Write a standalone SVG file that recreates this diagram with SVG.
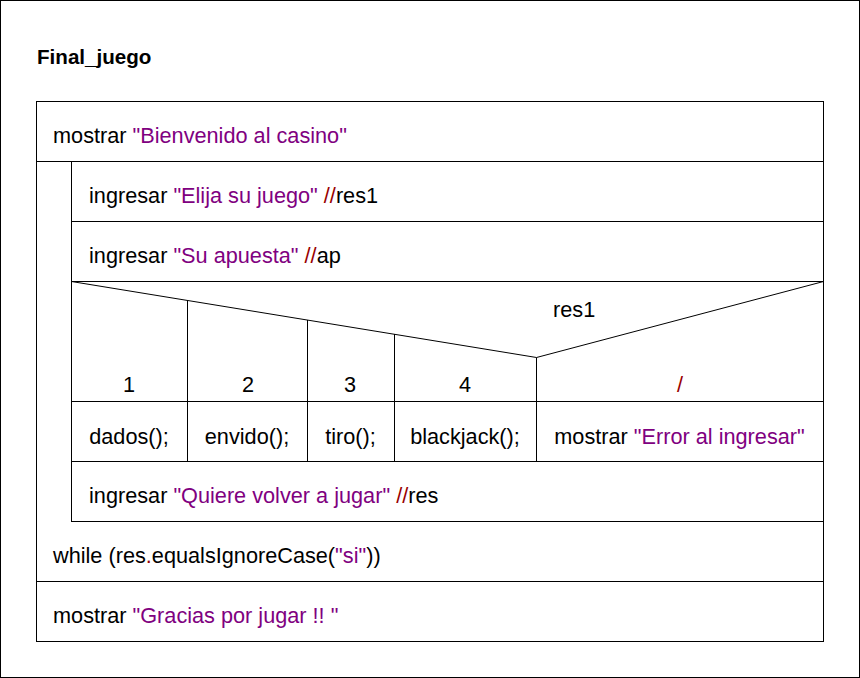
<svg xmlns="http://www.w3.org/2000/svg" width="860" height="678" viewBox="0 0 860 678">
<style>
.b{fill:#fff;stroke:#000;stroke-width:1}
.l{stroke:#000;stroke-width:1;fill:none}
text{font-family:"Liberation Sans",Arial,sans-serif;font-size:21.7px;fill:#000}
.t{font-weight:bold;font-size:20.6px}
.s{fill:#800080}
.r{fill:#990000}
.m{text-anchor:middle}
</style>
<rect x="0.5" y="0.5" width="859" height="677" fill="#fff" stroke="#000"/>
<text class="t" x="37" y="64">Final_juego</text>
<g id="main">
<rect class="b" x="36.5" y="101.5" width="787" height="540"/>
</g>
<g id="mostrar1">
<text x="53" y="143">mostrar <tspan class="s">"Bienvenido al casino"</tspan></text>
</g>
<g id="loop">
<rect class="b" x="71.5" y="161.5" width="752" height="360"/>
</g>
<g id="ingresar1">
<text x="89" y="203">ingresar <tspan class="s">"Elija su juego"</tspan> <tspan class="r">//</tspan>res1</text>
</g>
<g id="ingresar2">
<text x="89" y="263">ingresar <tspan class="s">"Su apuesta"</tspan> <tspan class="r">//</tspan>ap</text>
</g>
<g id="case">
<text x="553" y="317">res1</text>
<text class="m" x="129" y="392">1</text>
<text class="m" x="248" y="392">2</text>
<text class="m" x="350" y="392">3</text>
<text class="m" x="465" y="392">4</text>
<text class="m r" x="680" y="392">/</text>
</g>
<g id="c1"><text class="m" x="129" y="444">dados();</text></g>
<g id="c2"><text class="m" x="247" y="444">envido();</text></g>
<g id="c3"><text class="m" x="350.5" y="444">tiro();</text></g>
<g id="c4"><text class="m" x="465" y="444">blackjack();</text></g>
<g id="c5"><text class="m" x="679.5" y="444">mostrar <tspan class="s">"Error al ingresar"</tspan></text></g>
<g id="ingresar3">
<text x="89" y="503">ingresar <tspan class="s">"Quiere volver a jugar"</tspan> <tspan class="r">//</tspan>res</text>
</g>
<g id="while">
<text x="53" y="563">while (res<tspan class="r">.</tspan>equalsIgnoreCase(<tspan class="s">"si"</tspan>))</text>
</g>
<g id="mostrar2">
<text x="53" y="623">mostrar <tspan class="s">"Gracias por jugar !! "</tspan></text>
</g>
<g id="connectors">
<path class="l" d="M36.5 161.5H71.5M71.5 221.5H823.5M71.5 281.5H823.5M71.5 401.5H823.5M71.5 461.5H823.5M36.5 581.5H823.5"/>
<path class="l" d="M71.5 281.5L536.5 357.5L823.5 281.5"/>
<path class="l" d="M187.5 300.5V461.5M307.5 320V461.5M394.5 334V461.5M536.5 357.5V461.5"/>
</g>
</svg>
